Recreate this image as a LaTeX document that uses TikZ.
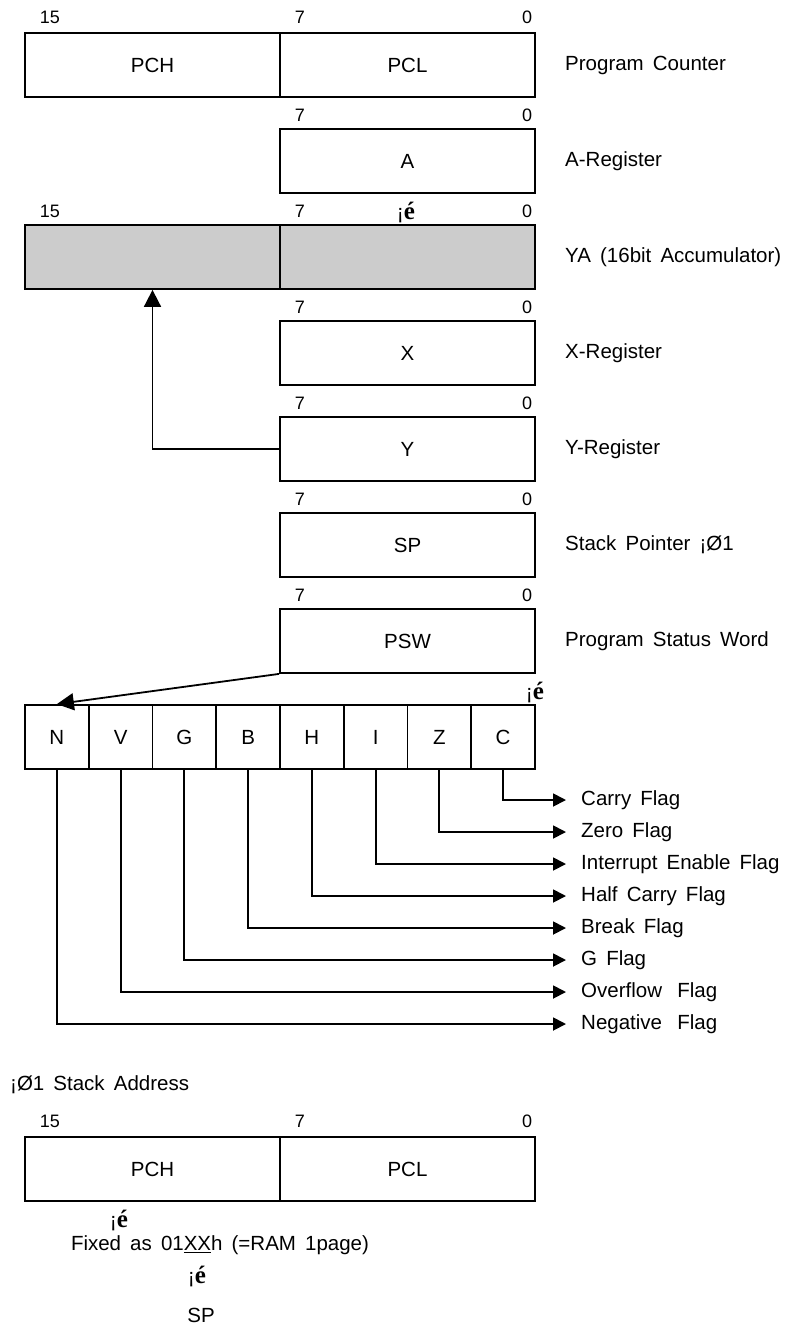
\documentclass[tikz,border=0pt]{standalone}
\usepackage{fontspec}
\setmainfont[WordSpace=1.6]{Liberation Sans}
\newfontfamily\markfont{Liberation Serif}
\usetikzlibrary{arrows.meta}
\newcommand{\upmark}{{\fontsize{21}{22}\selectfont¡}{\markfont\bfseries\fontsize{25}{25}\selectfont é}}
\tikzset{every picture/.append style={x=1pt, y=-1pt}}
\tikzset{
    reg/.style={draw, rectangle, line width=1.8pt, minimum width=255pt,
    	minimum height=64pt, inner sep=0pt, font=\fontsize{20.5}{22}\selectfont},
    flagbox/.style={reg, minimum width=63.75pt},
    bitno/.style={inner sep=0pt, font=\fontsize{18}{20}\selectfont},
    desc/.style={anchor=west, inner sep=0pt, font=\fontsize{20.5}{22}\selectfont},
    note/.style={inner sep=0pt, font=\fontsize{20.5}{22}\selectfont},
    flagarrow/.style={line width=1.8pt, -{Triangle[length=13pt, width=13pt]},
    	shorten >=15pt},
    bigarrow/.style={line width=1.8pt, -{Triangle[length=17pt, width=17pt]}}
}

\begin{document}
\begin{tikzpicture}
  \useasboundingbox (0,0) rectangle (786,1329);

  % program counter
  \node (pch) [reg] at (152.5, 65) {PCH};
  \node (pcl) [reg] at (407.5, 65) {PCL};
  \node (pc15) [bitno] at (50, 17) {15};
  \node (pc7) [bitno] at (300, 17) {7};
  \node (pc0) [bitno] at (527, 17) {0};
  \node (pclbl) [desc] at (565, 65) {Program Counter};

  % A register
  \node (rega) [reg] at (407.5, 161) {A};
  \node (a7) [bitno] at (300, 115) {7};
  \node (a0) [bitno] at (527, 115) {0};
  \node (albl) [desc] at (565, 161) {A-Register};

  % YA
  \node (yah) [reg, fill=black!20] at (152.5, 257) {};
  \node (yal) [reg, fill=black!20] at (407.5, 257) {};
  \node (ya15) [bitno] at (50, 211) {15};
  \node (ya7) [bitno] at (300, 211) {7};
  \node (ya0) [bitno] at (527, 211) {0};
  \node (yamark) [note] at (406, 212) {\upmark};
  \node (yalbl) [desc] at (565, 257) {YA (16bit Accumulator)};

  % X register
  \node (regx) [reg] at (407.5, 353) {X};
  \node (x7) [bitno] at (300, 307) {7};
  \node (x0) [bitno] at (527, 307) {0};
  \node (xlbl) [desc] at (565, 353) {X-Register};

  % Y register
  \node (regy) [reg] at (407.5, 449) {Y};
  \node (y7) [bitno] at (300, 403) {7};
  \node (y0) [bitno] at (527, 403) {0};
  \node (ylbl) [desc] at (565, 449) {Y-Register};

  % stack pointer
  \node (regsp) [reg] at (407.5, 545) {SP};
  \node (sp7) [bitno] at (300, 499) {7};
  \node (sp0) [bitno] at (527, 499) {0};
  \node (splbl) [desc] at (565, 545) {Stack Pointer ¡Ø1};

  % PSW
  \node (psw) [reg] at (407.5, 641) {PSW};
  \node (psw7) [bitno] at (300, 595) {7};
  \node (psw0) [bitno] at (527, 595) {0};
  \node (pswlbl) [desc] at (565, 641) {Program Status Word};

  % flags
  \node (fn) [flagbox] at (56.875, 737) {N};
  \node (fv) [flagbox] at (120.625, 737) {V};
  \node (fg) [flagbox] at (184.375, 737) {G};
  \node (fb) [flagbox] at (248.125, 737) {B};
  \node (fh) [flagbox] at (311.875, 737) {H};
  \node (fi) [flagbox] at (375.625, 737) {I};
  \node (fz) [flagbox] at (439.375, 737) {Z};
  \node (fc) [flagbox] at (503.125, 737) {C};
  \node (fmark) [note] at (535, 692) {\upmark};

  \node (lc) [desc] at (581, 800) {Carry Flag};
  \node (lz) [desc] at (581, 832) {Zero Flag};
  \node (li) [desc] at (581, 864) {Interrupt Enable Flag};
  \node (lh) [desc] at (581, 896) {Half Carry Flag};
  \node (lb) [desc] at (581, 928) {Break Flag};
  \node (lg) [desc] at (581, 960) {G Flag};
  \node (lv) [desc] at (581, 992) {Overflow\hspace{0.3em} Flag};
  \node (ln) [desc] at (581, 1024) {Negative\hspace{0.3em} Flag};

  \draw [bigarrow] (regy.west) -| (yah.south);
  \draw [bigarrow] (psw.south west) -- (fn.north);

  \draw [flagarrow] (fc.south) |- (lc.west);
  \draw [flagarrow] (fz.south) |- (lz.west);
  \draw [flagarrow] (fi.south) |- (li.west);
  \draw [flagarrow] (fh.south) |- (lh.west);
  \draw [flagarrow] (fb.south) |- (lb.west);
  \draw [flagarrow] (fg.south) |- (lg.west);
  \draw [flagarrow] (fv.south) |- (lv.west);
  \draw [flagarrow] (fn.south) |- (ln.west);

  % stack address
  \node (sttl) [desc] at (10, 1085) {¡Ø1 Stack Address};
  \node (stch) [reg] at (152.5, 1169) {PCH};
  \node (stcl) [reg] at (407.5, 1169) {PCL};
  \node (st15) [bitno] at (50, 1121) {15};
  \node (st7) [bitno] at (300, 1121) {7};
  \node (st0) [bitno] at (527, 1121) {0};
  \node (stmark) [note] at (119, 1220) {\upmark};
  \node (stfix) [note] at (220, 1245) {Fixed as 01\underline{XX}h (=RAM 1page)};
  \node (spmark) [note] at (197, 1276) {\upmark};
  \node (stsp) [note] at (201, 1315) {SP};
\end{tikzpicture}
\end{document}
